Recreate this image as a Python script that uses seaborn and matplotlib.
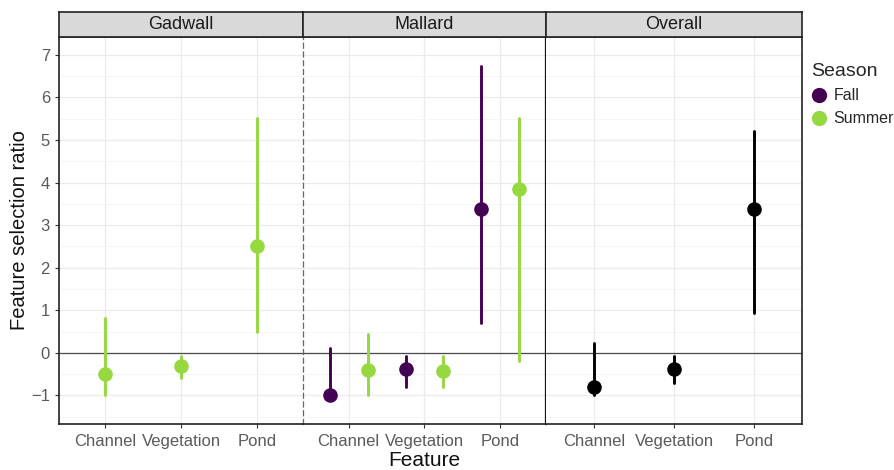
import numpy as np
import pandas as pd
import seaborn as sns
import matplotlib.pyplot as plt
from matplotlib.lines import Line2D
from matplotlib.ticker import MultipleLocator

features = ['Channel', 'Vegetation', 'Pond']
seasons = ['Fall', 'Summer']
panels = ['Gadwall', 'Mallard', 'Overall']

gadwall_summer_est = [-0.50, -0.31, 2.50]
gadwall_summer_lo = [-1.00, -0.59, 0.50]
gadwall_summer_hi = [0.81, -0.07, 5.51]

mallard_fall_est = [-1.00, -0.37, 3.37]
mallard_fall_lo = [-1.00, -0.80, 0.70]
mallard_fall_hi = [0.12, -0.08, 6.73]

mallard_summer_est = [-0.39, -0.42, 3.86]
mallard_summer_lo = [-1.00, -0.80, -0.18]
mallard_summer_hi = [0.44, -0.08, 5.51]

overall_est = [-0.79, -0.37, 3.37]
overall_lo = [-0.98, -0.71, 0.93]
overall_hi = [0.23, -0.08, 5.22]

season_colors = {'Fall': '#440154', 'Summer': '#95d840'}


def long_df(est, lo, hi, season):
    rows = []
    for f, e, l, h in zip(features, est, lo, hi):
        for v in (l, e, h):
            rows.append({'Feature': f, 'Season': season, 'value': v})
    return pd.DataFrame(rows)


gad = long_df(gadwall_summer_est, gadwall_summer_lo, gadwall_summer_hi, 'Summer')
mal = pd.concat([long_df(mallard_fall_est, mallard_fall_lo, mallard_fall_hi, 'Fall'),
                 long_df(mallard_summer_est, mallard_summer_lo, mallard_summer_hi, 'Summer')])
ovr = long_df(overall_est, overall_lo, overall_hi, 'Overall')

sns.set_theme(style='white')
plt.rcParams['font.family'] = ['Liberation Sans', 'DejaVu Sans']

W, H = 895, 470
fig = plt.figure(figsize=(W / 100, H / 100), dpi=100)

px = [(59, 303), (303, 546), (546, 802)]
top, bottom = 37, 424
strip_top = 12

axes = []
for (x0, x1) in px:
    ax = fig.add_axes([x0 / W, 1 - bottom / H, (x1 - x0) / W, (bottom - top) / H])
    axes.append(ax)

common = dict(order=features, estimator='median', errorbar=('pi', 100),
              linestyle='none', markersize=10.5, markeredgewidth=0,
              err_kws={'linewidth': 2.1})

sns.pointplot(data=gad, x='Feature', y='value', color=season_colors['Summer'],
              ax=axes[0], **common)
sns.pointplot(data=mal, x='Feature', y='value', hue='Season', hue_order=seasons,
              palette=season_colors, dodge=0.5, ax=axes[1], legend=False, **common)
sns.pointplot(data=ovr, x='Feature', y='value', color='black', ax=axes[2], **common)

for i, ax in enumerate(axes):
    ax.set_xlim(-0.6, 2.6)
    ax.set_ylim(-1.67, 7.42)
    ax.set_facecolor('white')
    ax.yaxis.set_major_locator(MultipleLocator(1))
    ax.yaxis.set_minor_locator(MultipleLocator(0.5))
    ax.grid(True, which='major', axis='both', color='#ebebeb', linewidth=0.9, zorder=0)
    ax.grid(True, which='minor', axis='y', color='#f4f4f4', linewidth=0.6, zorder=0)
    ax.set_axisbelow(True)
    ax.axhline(0, color='#4a4a4a', linewidth=0.9, zorder=1.5)
    ax.set_xlabel('')
    ax.set_ylabel('')
    ax.tick_params(axis='x', length=3, width=0.8, color='#333333', labelsize=12,
                   labelcolor='#5a5a5a', pad=4, bottom=True)
    if i == 0:
        ax.tick_params(axis='y', length=3, width=0.8, color='#333333', labelsize=12,
                       labelcolor='#5a5a5a', left=True, which='major')
        ax.tick_params(axis='y', which='minor', length=0)
    else:
        ax.tick_params(axis='y', which='both', length=0, labelleft=False)
    for s in ax.spines.values():
        s.set_color('#222222')
        s.set_linewidth(1.2)

axes[0].spines['right'].set_visible(False)
axes[1].spines['left'].set_linestyle((0, (4, 3)))
axes[1].spines['left'].set_color('#666666')
axes[1].spines['left'].set_linewidth(0.9)
axes[1].spines['right'].set_linewidth(1.6)
axes[1].spines['right'].set_color('#111111')
axes[2].spines['left'].set_visible(False)

# strips
for (x0, x1), name in zip(px, panels):
    sax = fig.add_axes([x0 / W, 1 - top / H, (x1 - x0) / W, (top - strip_top) / H])
    sax.set_facecolor('#d9d9d9')
    sax.set_xticks([])
    sax.set_yticks([])
    for s in sax.spines.values():
        s.set_color('#222222')
        s.set_linewidth(1.2)
    sax.text(0.5, 0.5, name, ha='center', va='center', fontsize=13,
             color='#1a1a1a', transform=sax.transAxes)

fig.text(20 / W, 1 - 230 / H, 'Feature selection ratio', rotation=90,
         ha='center', va='center', fontsize=14.5, color='#111111')
fig.text(424 / W, 1 - 460 / H, 'Feature', ha='center', va='center',
         fontsize=15, color='#111111')

handles = [Line2D([], [], marker='o', linestyle='none', markersize=11,
                  markeredgewidth=0, color=season_colors[s]) for s in seasons]
leg = fig.legend(handles, seasons, title='Season', loc='upper left',
                 bbox_to_anchor=(805 / W, 1 - 57 / H), frameon=False,
                 fontsize=11.5, title_fontsize=14, handletextpad=0.4,
                 labelspacing=0.5, borderaxespad=0, handlelength=1.0)
leg._legend_box.align = 'left'

fig.savefig('out.png', dpi=100)
